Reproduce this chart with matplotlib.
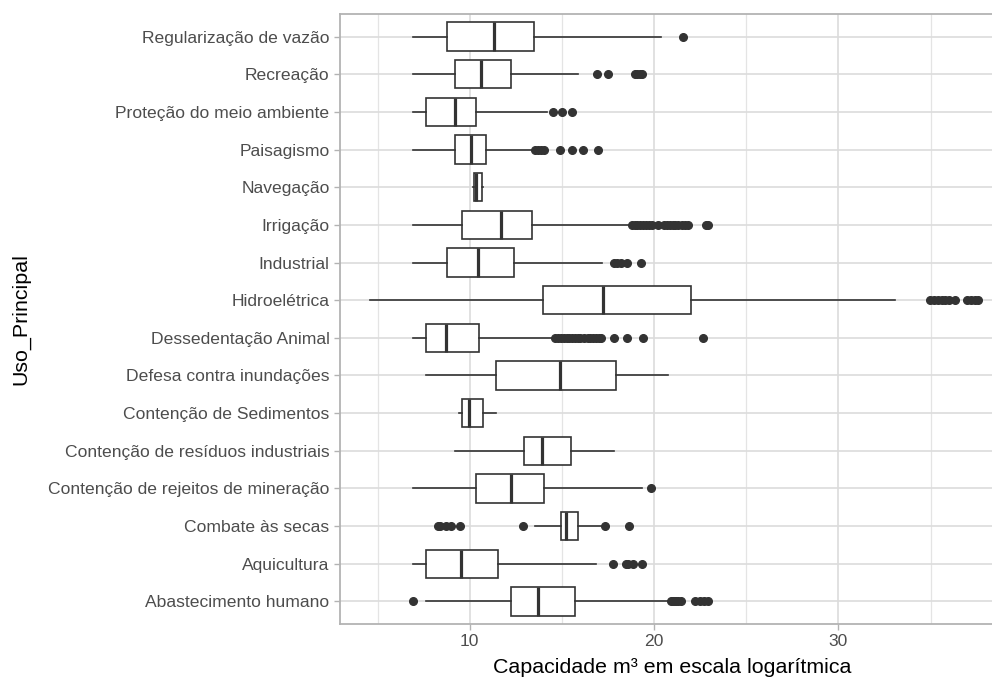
import matplotlib.pyplot as plt

plt.rcParams['font.family'] = ['Liberation Sans', 'DejaVu Sans']

# categorias de uso principal, de baixo para cima
categorias = ["Abastecimento humano", "Aquicultura", "Combate às secas",
              "Contenção de rejeitos de mineração", "Contenção de resíduos industriais",
              "Contenção de Sedimentos", "Defesa contra inundações", "Dessedentação Animal",
              "Hidroelétrica", "Industrial", "Irrigação", "Navegação", "Paisagismo",
              "Proteção do meio ambiente", "Recreação", "Regularização de vazão"]

# resumo dos boxplots (capacidade em escala logarítmica)
bigode_inf = [7.62, 6.9, 13.54, 6.9, 9.2, 9.42, 7.62, 6.9, 4.6, 6.9, 6.9, 10.15, 6.9, 6.9, 6.9, 6.9]
q1 = [12.24, 7.63, 14.93, 10.33, 12.93, 9.6, 11.43, 7.63, 13.97, 8.74, 9.6, 10.23, 9.22, 7.63, 9.2, 8.74]
mediana = [13.7, 9.5, 15.2, 12.26, 13.94, 9.96, 14.9, 8.7, 17.23, 10.43, 11.72, 10.36, 10.05, 9.19, 10.61, 11.32]
q3 = [15.71, 11.52, 15.87, 14.05, 15.5, 10.74, 17.95, 10.49, 21.98, 12.38, 13.36, 10.65, 10.89, 10.34, 12.24, 13.5]
bigode_sup = [20.75, 16.85, 17.1, 19.36, 17.82, 11.45, 20.75, 14.6, 33.09, 17.19, 18.73, 10.72, 13.31, 14.17, 15.89, 20.35]

outliers = [
    [6.91, 20.9, 21.0, 21.1, 21.2, 21.3, 21.45, 22.2, 22.5, 22.7, 22.9],
    [17.79, 18.46, 18.6, 18.87, 19.36],
    [8.25, 8.4, 8.7, 8.97, 9.46, 12.89, 17.32, 18.66],
    [19.85],
    [],
    [],
    [],
    [14.65, 14.8, 14.95, 15.1, 15.25, 15.4, 15.55, 15.7, 15.85, 16.0, 16.2, 16.4,
     16.55, 16.7, 16.85, 17.0, 17.1, 17.82, 18.55, 19.41, 22.65],
    [34.99, 35.2, 35.4, 35.6, 35.8, 36.0, 36.34, 36.97, 37.2, 37.4, 37.6],
    [17.82, 18.0, 18.2, 18.55, 19.27],
    [18.8, 18.95, 19.1, 19.25, 19.4, 19.55, 19.7, 19.9, 20.24, 20.55, 20.7, 20.85,
     21.0, 21.15, 21.3, 21.5, 21.7, 21.83, 22.8, 22.9],
    [],
    [13.52, 13.7, 13.85, 14.03, 14.9, 15.55, 16.13, 16.98],
    [14.52, 14.99, 15.56],
    [16.88, 17.52, 18.94, 19.1, 19.25, 19.36],
    [21.58],
]

stats = []
for i, nome in enumerate(categorias):
    stats.append({'label': nome, 'whislo': bigode_inf[i], 'q1': q1[i], 'med': mediana[i],
                  'q3': q3[i], 'whishi': bigode_sup[i], 'fliers': outliers[i]})

fig = plt.figure(figsize=(9.92, 6.8), dpi=100)
ax = fig.add_axes([340 / 992, 56 / 680, 665 / 992, 610 / 680])

cor = '#333333'
ax.bxp(stats, positions=range(1, len(categorias) + 1), vert=False, widths=0.75,
       showcaps=False, patch_artist=True,
       boxprops=dict(facecolor='white', edgecolor=cor, linewidth=1.2),
       whiskerprops=dict(color=cor, linewidth=1.2),
       medianprops=dict(color=cor, linewidth=2.3),
       flierprops=dict(marker='o', markerfacecolor=cor, markeredgecolor=cor, markersize=5.5),
       zorder=3)

ax.set_xlim(2.96, 39.04)
ax.set_ylim(0.4, 16.6)
ax.set_xticks([10, 20, 30])
ax.set_xticks([5, 15, 25, 35], minor=True)
ax.set_yticks(range(1, len(categorias) + 1))
ax.set_yticklabels(categorias)

ax.grid(True, which='major', color='#dcdcdc', linewidth=1.2, zorder=0)
ax.grid(True, which='minor', axis='x', color='#e4e4e4', linewidth=0.9, zorder=0)
ax.set_axisbelow(True)
for s in ax.spines.values():
    s.set_color('#b3b3b3')
    s.set_linewidth(1.3)

ax.tick_params(axis='both', which='major', colors='#b3b3b3', length=4, width=1,
               labelsize=12.6, labelcolor='#4d4d4d')
ax.tick_params(axis='x', which='minor', length=0)

ax.set_xlabel('Capacidade m³ em escala logarítmica', fontsize=15.4, color='black', labelpad=6)
ax.set_ylabel('Uso_Principal', fontsize=15.4, color='black')
ax.yaxis.set_label_coords(-0.466, 0.5)

fig.savefig('out.png', dpi=100)
